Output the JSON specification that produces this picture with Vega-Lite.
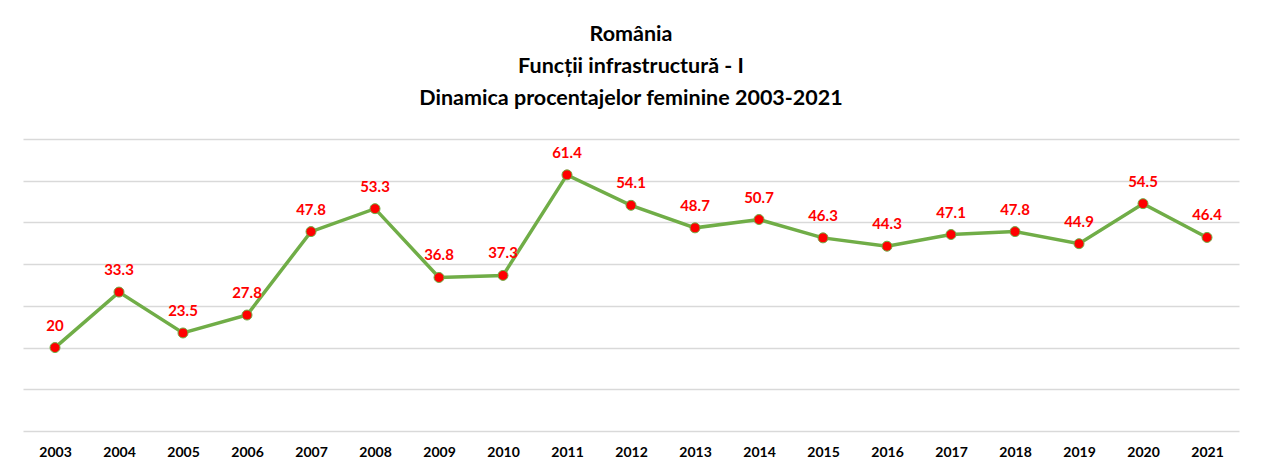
{
  "$schema": "https://vega.github.io/schema/vega-lite/v6.json",
  "width": 1216,
  "height": 292,
  "autosize": "none",
  "padding": {"left": 23, "top": 139, "right": 23, "bottom": 39},
  "background": "white",
  "title": {
    "text": ["România", "Funcții infrastructură - I", "Dinamica procentajelor feminine 2003-2021"],
    "font": "Lato",
    "fontSize": 21.5,
    "fontWeight": "bold",
    "color": "#000000",
    "lineHeight": 32,
    "anchor": "middle",
    "offset": 30
  },
  "data": {
    "values": [
      {"year": "2003", "pct": 20},
      {"year": "2004", "pct": 33.3},
      {"year": "2005", "pct": 23.5},
      {"year": "2006", "pct": 27.8},
      {"year": "2007", "pct": 47.8},
      {"year": "2008", "pct": 53.3},
      {"year": "2009", "pct": 36.8},
      {"year": "2010", "pct": 37.3},
      {"year": "2011", "pct": 61.4},
      {"year": "2012", "pct": 54.1},
      {"year": "2013", "pct": 48.7},
      {"year": "2014", "pct": 50.7},
      {"year": "2015", "pct": 46.3},
      {"year": "2016", "pct": 44.3},
      {"year": "2017", "pct": 47.1},
      {"year": "2018", "pct": 47.8},
      {"year": "2019", "pct": 44.9},
      {"year": "2020", "pct": 54.5},
      {"year": "2021", "pct": 46.4}
    ]
  },
  "encoding": {
    "x": {
      "field": "year",
      "type": "ordinal",
      "scale": {"type": "point", "padding": 0.5},
      "axis": {
        "title": null,
        "labelAngle": 0,
        "domain": false,
        "ticks": false,
        "labelPadding": 14,
        "labelFont": "Lato",
        "labelFontSize": 14,
        "labelFontWeight": "bold",
        "labelColor": "#000000",
        "grid": false
      }
    },
    "y": {
      "field": "pct",
      "type": "quantitative",
      "scale": {"domain": [0, 70], "nice": false},
      "axis": {
        "title": null,
        "labels": false,
        "ticks": false,
        "domain": false,
        "values": [0, 10, 20, 30, 40, 50, 60, 70],
        "grid": true,
        "gridColor": "#d9d9d9",
        "gridWidth": 1.5
      }
    }
  },
  "layer": [
    {
      "mark": {"type": "line", "color": "#70ad47", "strokeWidth": 3.5}
    },
    {
      "mark": {"type": "point", "filled": true, "fill": "#ff0000", "stroke": "#70ad47", "strokeWidth": 1, "size": 100, "opacity": 1}
    },
    {
      "mark": {"type": "text", "dy": -22, "color": "#ff0000", "font": "Lato", "fontSize": 15, "fontWeight": "bold", "baseline": "middle"},
      "encoding": {"text": {"field": "pct", "type": "quantitative"}}
    }
  ],
  "config": {"view": {"stroke": null}}
}
